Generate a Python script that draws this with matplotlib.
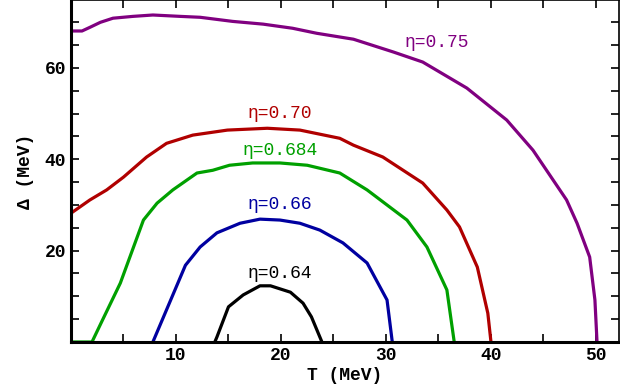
import numpy as np
import matplotlib
matplotlib.use("Agg")
import matplotlib.pyplot as plt
from matplotlib.ticker import MultipleLocator

# контуры постоянного eta: T (MeV) и Delta (MeV)
t_075 = [0, 1.05, 1.8, 2.8, 4.0, 5.9, 7.8, 10.4, 12.3, 15.4, 18.3, 21.1, 23.4, 26.9, 30.7,
         33.5, 37.7, 41.5, 44.0, 47.2, 48.2, 49.4, 49.9, 50.1]
d_075 = [68.1, 68.1, 68.9, 70.0, 70.9, 71.3, 71.6, 71.3, 71.1, 70.2, 69.6, 68.7, 67.6, 66.3, 63.5,
         61.3, 55.6, 48.6, 42.0, 31.1, 26.0, 18.6, 9.2, 0]

t_070 = [0, 1.8, 3.4, 5.0, 7.2, 9.1, 11.6, 14.9, 18.7, 21.8, 25.6, 26.9, 29.7, 33.5,
         35.8, 37.0, 38.7, 39.7, 40.0]
d_070 = [28.2, 31.1, 33.3, 36.1, 40.5, 43.5, 45.3, 46.4, 46.8, 46.4, 44.6, 43.1, 40.5, 34.8,
         28.9, 25.2, 16.4, 6.3, 0]

t_0684 = [0, 2.0, 3.0, 4.7, 6.9, 8.2, 9.7, 12.0, 13.5, 15.1, 17.3, 19.9, 22.5, 25.6,
          28.2, 32.0, 33.9, 35.8, 36.5]
d_0684 = [0, 0, 4.8, 12.9, 26.7, 30.4, 33.3, 37.0, 37.6, 38.7, 39.2, 39.2, 38.7, 37.0,
          33.3, 26.7, 20.8, 11.4, 0]

t_066 = [7.8, 10.9, 12.3, 13.9, 16.1, 18.0, 19.9, 21.8, 23.7, 25.9, 28.2, 30.1, 30.6]
d_066 = [0, 16.8, 20.8, 23.9, 26.0, 26.9, 26.7, 26.0, 24.5, 21.7, 17.3, 9.2, 0]

t_064 = [13.7, 13.9, 15.0, 16.4, 18.0, 19.0, 20.9, 22.1, 22.9, 23.9]
d_064 = [0, 1.1, 7.7, 10.3, 12.3, 12.3, 10.9, 8.5, 5.5, 0]

curves = [(t_075, d_075, "#800080"), (t_070, d_070, "#b00000"), (t_0684, d_0684, "#00a000"),
          (t_066, d_066, "#0000a0"), (t_064, d_064, "#000000")]

labels = ["η=0.75", "η=0.70", "η=0.684", "η=0.66", "η=0.64"]
label_t = [34.8, 19.9, 19.9, 19.9, 19.9]
label_d = [65.6, 50.1, 42.0, 30.2, 15.1]

plt.rcParams['font.family'] = ['Liberation Mono', 'DejaVu Sans Mono']

fig = plt.figure(figsize=(6.2, 3.92), dpi=100)
ax = fig.add_axes([0.1145, 0.1276, 0.884, 0.8714])

for (t, d, c), lab, lt, ld in zip(curves, labels, label_t, label_d):
    ax.plot(t, d, color=c, lw=2.3, solid_joinstyle='round')
    ax.text(lt, ld, lab, color=c, fontsize=13, ha='center', va='center')

ax.set_xlim(0, 52.2)
ax.set_ylim(0, 74.8)
ax.xaxis.set_major_locator(MultipleLocator(10))
ax.xaxis.set_minor_locator(MultipleLocator(5))
ax.yaxis.set_major_locator(MultipleLocator(20))
ax.yaxis.set_minor_locator(MultipleLocator(5))
ax.set_yticks([20, 40, 60])
ax.set_xticks([10, 20, 30, 40, 50])
ax.tick_params(which='both', direction='in', top=True, right=True, width=1.2, length=6,
               labelsize=13)
for lbl in ax.get_xticklabels() + ax.get_yticklabels():
    lbl.set_fontweight('bold')
for side in ['left', 'bottom']:
    ax.spines[side].set_linewidth(2.2)
for side in ['top', 'right']:
    ax.spines[side].set_linewidth(1.2)

ax.set_xlabel("T (MeV)", fontsize=13, fontweight='bold', labelpad=2)
ax.set_ylabel("Δ (MeV)", fontsize=13, fontweight='bold', labelpad=8)

fig.savefig("out.png", dpi=100)
